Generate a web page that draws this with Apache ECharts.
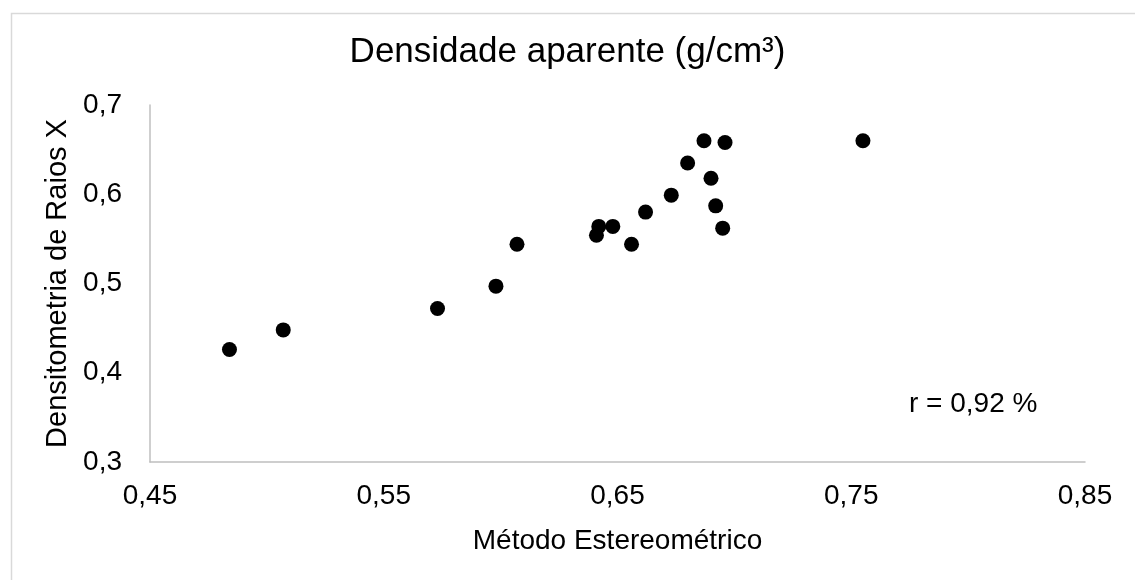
<!DOCTYPE html>
<html>
<head>
<meta charset="utf-8">
<script src="https://cdn.jsdelivr.net/npm/echarts@6/dist/echarts.min.js"></script>
<style>
  html, body { margin: 0; padding: 0; background: #fff; }
  #chart { width: 1135px; height: 580px; }
</style>
</head>
<body>
<div id="chart"></div>
<script>
// Método Estereométrico (x) vs Densitometria de Raios X (y)
let estereometrico = [0.484, 0.507, 0.573, 0.598, 0.607, 0.642, 0.641, 0.648, 0.656, 0.662, 0.673, 0.680, 0.687, 0.696, 0.690, 0.692, 0.695, 0.755];
let raiosX = [0.426, 0.448, 0.472, 0.497, 0.544, 0.564, 0.554, 0.564, 0.544, 0.580, 0.599, 0.635, 0.660, 0.658, 0.618, 0.587, 0.562, 0.660];
let xTicks = [0.45, 0.55, 0.65, 0.75, 0.85];
let yTicks = [0.3, 0.4, 0.5, 0.6, 0.7];

let pontos = estereometrico.map((x, i) => [x, raiosX[i]]);
let fonte = 'Liberation Sans, Arial, sans-serif';
//vírgula como separador decimal
let fmt = (v) => String(+v.toFixed(2)).replace('.', ',');

let myChart = echarts.init(document.getElementById('chart'));
myChart.setOption({
  animation: false,
  backgroundColor: '#fff',
  title: {
    text: 'Densidade aparente (g/cm³)',
    left: 'center',
    top: 30,
    textStyle: { fontFamily: fonte, fontSize: 35, fontWeight: 'normal', color: '#000' }
  },
  grid: {
    left: 150,
    right: 50,
    top: 105,
    bottom: 118
  },
  xAxis: {
    type: 'value',
    min: xTicks[0],
    max: xTicks[xTicks.length - 1],
    interval: 0.1,
    name: 'Método Estereométrico',
    nameLocation: 'middle',
    nameGap: 65,
    nameTextStyle: { fontFamily: fonte, fontSize: 28, color: '#000' },
    axisLine: { lineStyle: { color: '#bfbfbf', width: 1.5 } },
    axisTick: { show: false },
    splitLine: { show: false },
    axisLabel: { fontFamily: fonte, fontSize: 28, color: '#000', margin: 20, formatter: fmt }
  },
  yAxis: {
    type: 'value',
    min: yTicks[0],
    max: yTicks[yTicks.length - 1],
    interval: 0.1,
    name: 'Densitometria de Raios X',
    nameLocation: 'middle',
    nameGap: 78,
    nameTextStyle: { fontFamily: fonte, fontSize: 29, color: '#000' },
    axisLine: { show: true, lineStyle: { color: '#bfbfbf', width: 1.5 } },
    axisTick: { show: false },
    splitLine: { show: false },
    axisLabel: { fontFamily: fonte, fontSize: 28, color: '#000', margin: 28, formatter: fmt }
  },
  graphic: [
    {
      type: 'rect',
      left: 9,
      top: 11,
      shape: { width: 1140, height: 590 },
      style: { fill: 'none', stroke: '#d9d9d9', lineWidth: 1.5 },
      silent: true
    },
    {
      type: 'text',
      left: 909,
      top: 390,
      style: { text: 'r = 0,92 %', font: '28px ' + fonte, fill: '#000' }
    }
  ],
  series: [
    {
      type: 'scatter',
      data: pontos,
      symbol: 'circle',
      symbolSize: 15,
      itemStyle: { color: '#000', opacity: 1 }
    }
  ]
});
</script>
</body>
</html>
